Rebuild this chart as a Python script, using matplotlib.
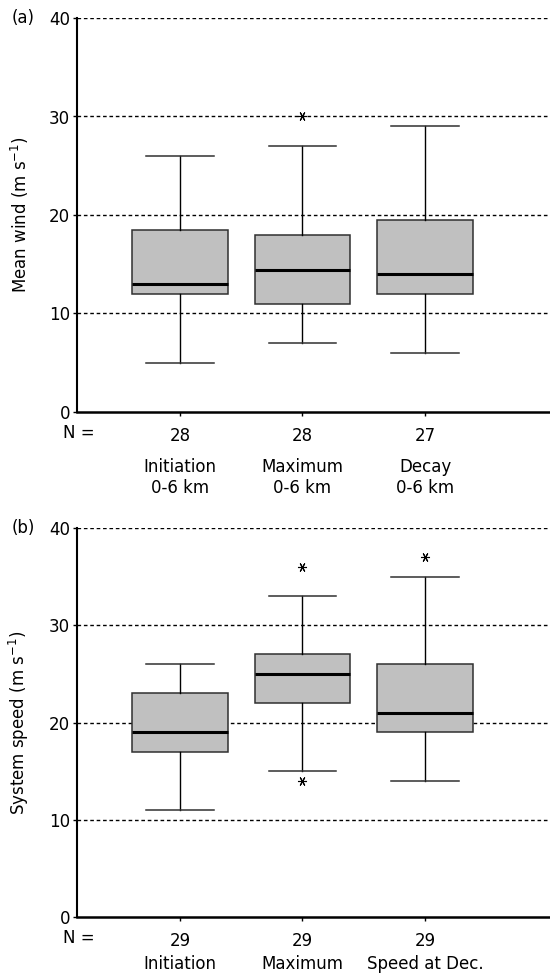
import matplotlib
matplotlib.use("Agg")
import matplotlib.pyplot as plt

plt.rcParams['font.family'] = ['DejaVu Sans']

# panel (a): mean wind 0-6 km
wind_labels = ["Initiation\n0-6 km", "Maximum\n0-6 km", "Decay\n0-6 km"]
wind_n = [28, 28, 27]
wind_low = [5, 7, 6]
wind_q1 = [12, 11, 12]
wind_med = [13, 14.45, 14]
wind_q3 = [18.5, 18, 19.5]
wind_high = [26, 27, 29]
wind_fliers = [[], [30], []]

# panel (b): system speed
speed_labels = ["Initiation", "Maximum", "Speed at Dec."]
speed_n = [29, 29, 29]
speed_low = [11, 15, 14]
speed_q1 = [17, 22, 19]
speed_med = [19, 25, 21]
speed_q3 = [23, 27, 26]
speed_high = [26, 33, 35]
speed_fliers = [[], [36, 14], [37]]

PX = 72 / 100  # points per pixel


def make_stats(low, q1, med, q3, high, fliers):
    return [dict(whislo=a, q1=b, med=c, q3=d, whishi=e, fliers=f)
            for a, b, c, d, e, f in zip(low, q1, med, q3, high, fliers)]


def draw_panel(ax, stats, ns, labels, ylabel, tag, tag_y, lab_off):
    for y in [10, 20, 30, 40]:
        ax.axhline(y, color='black', ls=(0, (2.6, 2.0)), lw=1.0, zorder=0)
    ax.bxp(stats, positions=[1, 2, 3], widths=0.78, patch_artist=True,
           boxprops=dict(facecolor='#c0c0c0', edgecolor='#303030', lw=1.1),
           medianprops=dict(color='black', lw=2.2),
           whiskerprops=dict(color='black', lw=1.0),
           capprops=dict(color='#303030', lw=1.1),
           capwidths=0.55,
           flierprops=dict(marker=(6, 2, 90), markersize=6.5, markeredgecolor='black',
                           markeredgewidth=0.8))
    ax.set_xlim(0.16, 4.02)
    ax.set_ylim(0, 40)
    ax.set_yticks([0, 10, 20, 30, 40])
    ax.set_xticks([1, 2, 3])
    ax.set_xticklabels([str(n) for n in ns])
    ax.tick_params(axis='both', labelsize=12, length=3, width=1, direction='out')
    ax.tick_params(axis='y', pad=2)
    ax.tick_params(axis='x', pad=8)
    for s in ['top', 'right']:
        ax.spines[s].set_visible(False)
    ax.spines['left'].set_linewidth(1.5)
    ax.spines['bottom'].set_linewidth(1.8)
    ax.set_ylabel(ylabel, fontsize=12)
    ax.yaxis.set_label_coords(-0.098, 0.5)
    fig.text(12 / 550, tag_y, tag, fontsize=12, va='center', ha='left')
    ax.annotate("N =", xy=(0, 0), xycoords='axes fraction', xytext=(18 * PX, -21 * PX),
                textcoords='offset points', fontsize=12, ha='right', va='center')
    for x, lab in zip([1, 2, 3], labels):
        ax.annotate(lab, xy=(x, 0), xycoords=('data', 'axes fraction'),
                    xytext=(0, -lab_off * PX), textcoords='offset points', fontsize=12,
                    ha='center', va='top', linespacing=1.25)


fig = plt.figure(figsize=(5.5, 9.74), dpi=100)
ax1 = fig.add_axes([77 / 550, 1 - 412 / 974, 1 - 77 / 550, (412 - 18) / 974])
ax2 = fig.add_axes([77 / 550, 1 - 917 / 974, 1 - 77 / 550, (917 - 528) / 974])

draw_panel(ax1, make_stats(wind_low, wind_q1, wind_med, wind_q3, wind_high, wind_fliers),
           wind_n, wind_labels, "Mean wind (m s$^{-1}$)", "(a)", 1 - 18 / 974, 46)
draw_panel(ax2, make_stats(speed_low, speed_q1, speed_med, speed_q3, speed_high, speed_fliers),
           speed_n, speed_labels, "System speed (m s$^{-1}$)", "(b)", 1 - 528 / 974, 38)

fig.savefig("out.png", dpi=100)
